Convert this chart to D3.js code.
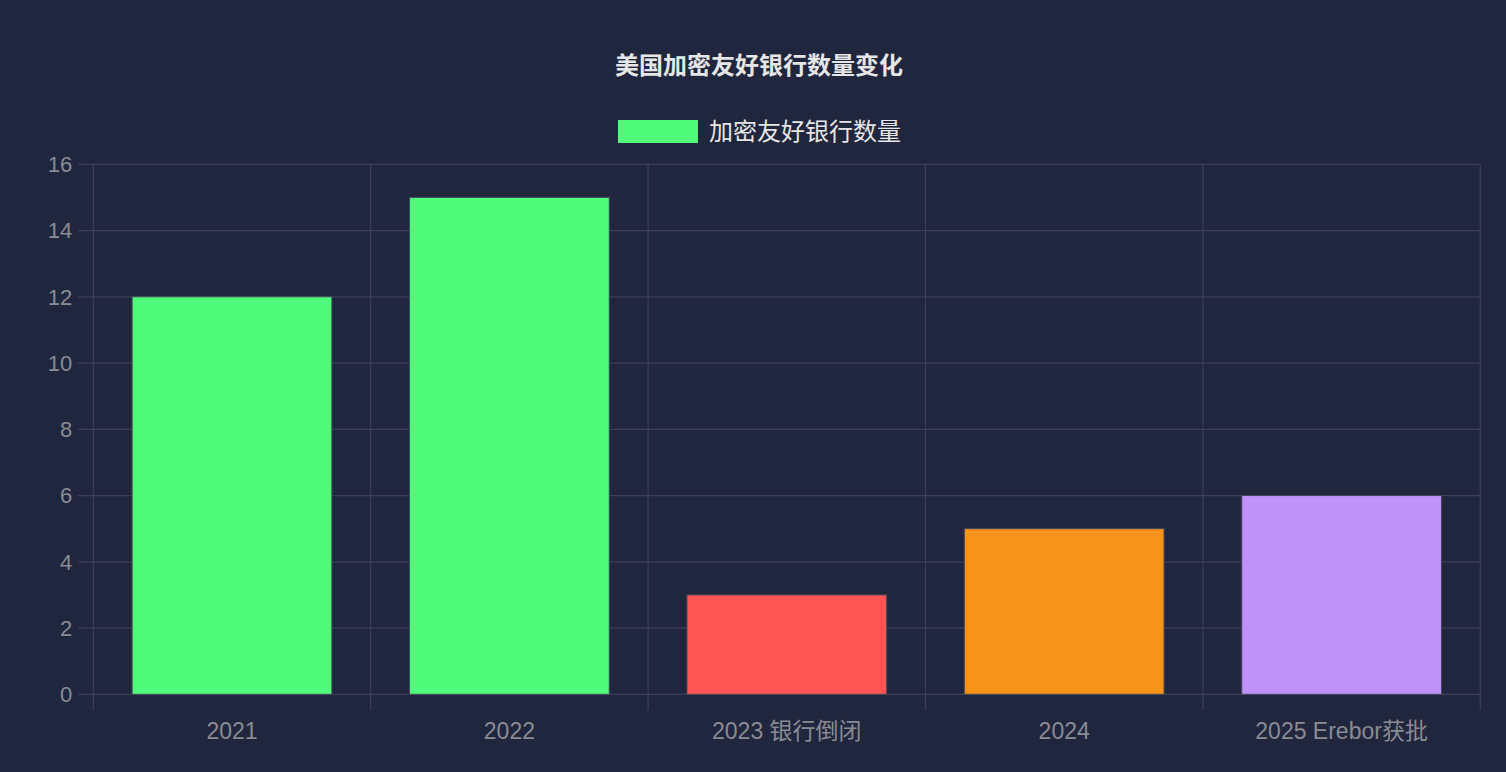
<!DOCTYPE html>
<html>
<head>
<meta charset="utf-8">
<script src="https://cdn.jsdelivr.net/npm/d3@7"></script>
<style>
  html, body { margin: 0; padding: 0; background: #21263f; }
  svg { display: block; font-family: "Liberation Sans", Arial, "Noto Sans CJK SC", sans-serif; }
</style>
</head>
<body>
<svg id="chart" width="1506" height="772"></svg>
<script>
// chart data
const categories = ['2021', '2022', '2023 银行倒闭', '2024', '2025 Erebor获批']
const bankCounts = [12, 15, 3, 5, 6]
const barColors = ['#50fa7b', '#50fa7b', '#ff5555', '#f7931a', '#bf92f9']
const yTicks = [0, 2, 4, 6, 8, 10, 12, 14, 16]
const chartTitle = '美国加密友好银行数量变化'
const seriesName = '加密友好银行数量'

const width = 1506
const height = 772
const margin = { top: 164.3, right: 25.7, bottom: 77.7, left: 93.3 }
const gridColor = '#3b4058'
const tickColor = '#8a8b92'

const svg = d3.select('#chart')

const x = d3.scaleBand()
    .domain(categories)
    .range([margin.left, width - margin.right])
    .paddingInner(0)
    .paddingOuter(0)

const y = d3.scaleLinear()
    .domain([0, 16])
    .range([height - margin.bottom, margin.top])

// horizontal grid + ticks
svg.append('g')
    .selectAll('line')
    .data(yTicks)
    .enter().append('line')
    .attr('x1', margin.left - 15)
    .attr('x2', width - margin.right)
    .attr('y1', (d) => y(d))
    .attr('y2', (d) => y(d))
    .attr('stroke', gridColor)
    .attr('stroke-width', 1.2)

// vertical grid at category edges
const edges = categories.map((c) => x(c)).concat([x(categories[categories.length - 1]) + x.bandwidth()])
svg.append('g')
    .selectAll('line')
    .data(edges)
    .enter().append('line')
    .attr('x1', (d) => d)
    .attr('x2', (d) => d)
    .attr('y1', margin.top)
    .attr('y2', height - margin.bottom + 16)
    .attr('stroke', gridColor)
    .attr('stroke-width', 1.2)

// bars
const barWidth = x.bandwidth() * 0.72
svg.append('g')
    .selectAll('rect.bar')
    .data(bankCounts)
    .enter().append('rect')
    .attr('class', 'bar')
    .attr('x', (d, i) => x(categories[i]) + (x.bandwidth() - barWidth) / 2)
    .attr('y', (d) => y(d))
    .attr('width', barWidth)
    .attr('height', (d) => y(0) - y(d))
    .attr('fill', (d, i) => barColors[i])
    .attr('stroke', '#44475a')
    .attr('stroke-width', 1)

// y tick labels
svg.append('g')
    .selectAll('text')
    .data(yTicks)
    .enter().append('text')
    .attr('x', margin.left - 21)
    .attr('y', (d) => y(d))
    .attr('dy', '0.36em')
    .attr('text-anchor', 'end')
    .attr('fill', tickColor)
    .attr('font-size', 22)
    .text((d) => d)

// x tick labels
svg.append('g')
    .selectAll('text')
    .data(categories)
    .enter().append('text')
    .attr('x', (d) => x(d) + x.bandwidth() / 2)
    .attr('y', 739)
    .attr('text-anchor', 'middle')
    .attr('fill', tickColor)
    .attr('font-size', 23)
    .text((d) => d)

// title
svg.append('text')
    .attr('x', 759)
    .attr('y', 74)
    .attr('text-anchor', 'middle')
    .attr('fill', '#e6e6e6')
    .attr('font-size', 24)
    .attr('font-weight', 'bold')
    .text(chartTitle)

// legend
svg.append('rect')
    .attr('x', 618)
    .attr('y', 120)
    .attr('width', 80)
    .attr('height', 23)
    .attr('fill', barColors[0])
svg.append('text')
    .attr('x', 709)
    .attr('y', 140)
    .attr('fill', '#e6e6e6')
    .attr('font-size', 24)
    .text(seriesName)
</script>
</body>
</html>
